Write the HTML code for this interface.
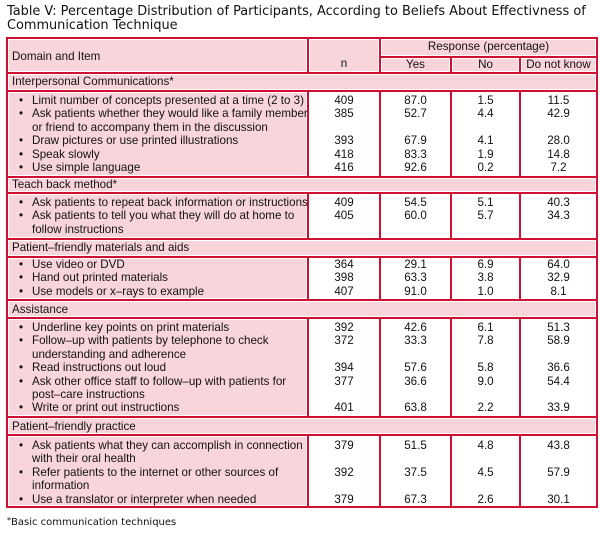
<!DOCTYPE html>
<html><head><meta charset="utf-8"><style>
body{margin:0;background:#fff;width:600px;height:534px;position:relative;overflow:hidden;font-family:"Liberation Sans",Arial,sans-serif;color:#111}
.t{position:absolute;left:7px;font-family:"DejaVu Sans","Liberation Sans",sans-serif;font-size:12.9px;line-height:13.5px;white-space:nowrap}
.r{position:absolute;background:#cf1030}
.c{position:absolute;box-sizing:border-box}
.p{background:#f8d5db;border:1px solid #fff}
.w{background:#fff}
.tx{position:absolute;font-size:11.6px;line-height:13.4px;white-space:nowrap}
.blk{position:absolute;left:7px;width:590px;font-size:11.6px;line-height:13.4px;white-space:nowrap}
.row{display:grid;grid-template-columns:301px 72px 71px 69px 77px}
.row>div{text-align:center}
.row>div:first-child{text-align:left;padding-left:25px;position:relative}
.row>div:first-child:before{content:"•";position:absolute;left:12px;top:0}
</style></head><body>
<div class="t" style="top:5px">Table V: Percentage Distribution of Participants, According to Beliefs About Effectivness of<br>Communication Technique</div>

<div class="r" style="left:6px;top:37px;width:592px;height:471px"></div>
<div class="c p" style="left:8px;top:39px;width:299px;height:33px"></div>
<div class="c p" style="left:309px;top:39px;width:70px;height:33px"></div>
<div class="c p" style="left:381px;top:39px;width:215px;height:17px"></div>
<div class="c p" style="left:381px;top:58px;width:69px;height:14px"></div>
<div class="c p" style="left:452px;top:58px;width:67px;height:14px"></div>
<div class="c p" style="left:521px;top:58px;width:75px;height:14px"></div>
<div class="tx" style="left:12px;top:50px">Domain and Item</div>
<div class="tx" style="left:309px;width:70px;text-align:center;top:57px">n</div>
<div class="tx" style="left:381px;width:215px;text-align:center;top:40px">Response (percentage)</div>
<div class="tx" style="left:381px;width:69px;text-align:center;top:58px">Yes</div>
<div class="tx" style="left:452px;width:67px;text-align:center;top:58px">No</div>
<div class="tx" style="left:521px;width:75px;text-align:center;top:58px">Do not know</div>

<div class="c p" style="left:8px;top:74px;width:588px;height:16px"></div>
<div class="tx" style="left:12px;top:75px">Interpersonal Communications*</div>
<div class="c p" style="left:8px;top:178px;width:588px;height:14px"></div>
<div class="tx" style="left:12px;top:178px">Teach back method*</div>
<div class="c p" style="left:8px;top:240px;width:588px;height:16px"></div>
<div class="tx" style="left:12px;top:241px">Patient–friendly materials and aids</div>
<div class="c p" style="left:8px;top:301px;width:588px;height:16px"></div>
<div class="tx" style="left:12px;top:303px">Assistance</div>
<div class="c p" style="left:8px;top:418px;width:588px;height:16px"></div>
<div class="tx" style="left:12px;top:420px">Patient–friendly practice</div>

<div class="c p" style="left:8px;top:92px;width:299px;height:84px"></div>
<div class="c w" style="left:309px;top:92px;width:70px;height:84px"></div>
<div class="c w" style="left:381px;top:92px;width:69px;height:84px"></div>
<div class="c w" style="left:452px;top:92px;width:67px;height:84px"></div>
<div class="c w" style="left:521px;top:92px;width:75px;height:84px"></div>

<div class="c p" style="left:8px;top:194px;width:299px;height:44px"></div>
<div class="c w" style="left:309px;top:194px;width:70px;height:44px"></div>
<div class="c w" style="left:381px;top:194px;width:69px;height:44px"></div>
<div class="c w" style="left:452px;top:194px;width:67px;height:44px"></div>
<div class="c w" style="left:521px;top:194px;width:75px;height:44px"></div>

<div class="c p" style="left:8px;top:258px;width:299px;height:41px"></div>
<div class="c w" style="left:309px;top:258px;width:70px;height:41px"></div>
<div class="c w" style="left:381px;top:258px;width:69px;height:41px"></div>
<div class="c w" style="left:452px;top:258px;width:67px;height:41px"></div>
<div class="c w" style="left:521px;top:258px;width:75px;height:41px"></div>

<div class="c p" style="left:8px;top:319px;width:299px;height:97px"></div>
<div class="c w" style="left:309px;top:319px;width:70px;height:97px"></div>
<div class="c w" style="left:381px;top:319px;width:69px;height:97px"></div>
<div class="c w" style="left:452px;top:319px;width:67px;height:97px"></div>
<div class="c w" style="left:521px;top:319px;width:75px;height:97px"></div>

<div class="c p" style="left:8px;top:436px;width:299px;height:70px"></div>
<div class="c w" style="left:309px;top:436px;width:70px;height:70px"></div>
<div class="c w" style="left:381px;top:436px;width:69px;height:70px"></div>
<div class="c w" style="left:452px;top:436px;width:67px;height:70px"></div>
<div class="c w" style="left:521px;top:436px;width:75px;height:70px"></div>

<div class="blk" style="top:94px">
<div class="row"><div>Limit number of concepts presented at a time (2 to 3)</div><div>409</div><div>87.0</div><div>1.5</div><div>11.5</div></div>
<div class="row"><div>Ask patients whether they would like a family member<br>or friend to accompany them in the discussion</div><div>385</div><div>52.7</div><div>4.4</div><div>42.9</div></div>
<div class="row"><div>Draw pictures or use printed illustrations</div><div>393</div><div>67.9</div><div>4.1</div><div>28.0</div></div>
<div class="row"><div>Speak slowly</div><div>418</div><div>83.3</div><div>1.9</div><div>14.8</div></div>
<div class="row"><div>Use simple language</div><div>416</div><div>92.6</div><div>0.2</div><div>7.2</div></div>
</div>
<div class="blk" style="top:196px">
<div class="row"><div>Ask patients to repeat back information or instructions</div><div>409</div><div>54.5</div><div>5.1</div><div>40.3</div></div>
<div class="row"><div>Ask patients to tell you what they will do at home to<br>follow instructions</div><div>405</div><div>60.0</div><div>5.7</div><div>34.3</div></div>
</div>
<div class="blk" style="top:258px">
<div class="row"><div>Use video or DVD</div><div>364</div><div>29.1</div><div>6.9</div><div>64.0</div></div>
<div class="row"><div>Hand out printed materials</div><div>398</div><div>63.3</div><div>3.8</div><div>32.9</div></div>
<div class="row"><div>Use models or x–rays to example</div><div>407</div><div>91.0</div><div>1.0</div><div>8.1</div></div>
</div>
<div class="blk" style="top:321px">
<div class="row"><div>Underline key points on print materials</div><div>392</div><div>42.6</div><div>6.1</div><div>51.3</div></div>
<div class="row"><div>Follow–up with patients by telephone to check<br>understanding and adherence</div><div>372</div><div>33.3</div><div>7.8</div><div>58.9</div></div>
<div class="row"><div>Read instructions out loud</div><div>394</div><div>57.6</div><div>5.8</div><div>36.6</div></div>
<div class="row"><div>Ask other office staff to follow–up with patients for<br>post–care instructions</div><div>377</div><div>36.6</div><div>9.0</div><div>54.4</div></div>
<div class="row"><div>Write or print out instructions</div><div>401</div><div>63.8</div><div>2.2</div><div>33.9</div></div>
</div>
<div class="blk" style="top:439px">
<div class="row"><div>Ask patients what they can accomplish in connection<br>with their oral health</div><div>379</div><div>51.5</div><div>4.8</div><div>43.8</div></div>
<div class="row"><div>Refer patients to the internet or other sources of<br>information</div><div>392</div><div>37.5</div><div>4.5</div><div>57.9</div></div>
<div class="row"><div>Use a translator or interpreter when needed</div><div>379</div><div>67.3</div><div>2.6</div><div>30.1</div></div>
</div>

<div class="t" style="top:514px;font-size:10px"><span style="font-size:8px;vertical-align:2px">*</span>Basic communication techniques</div>
</body></html>
